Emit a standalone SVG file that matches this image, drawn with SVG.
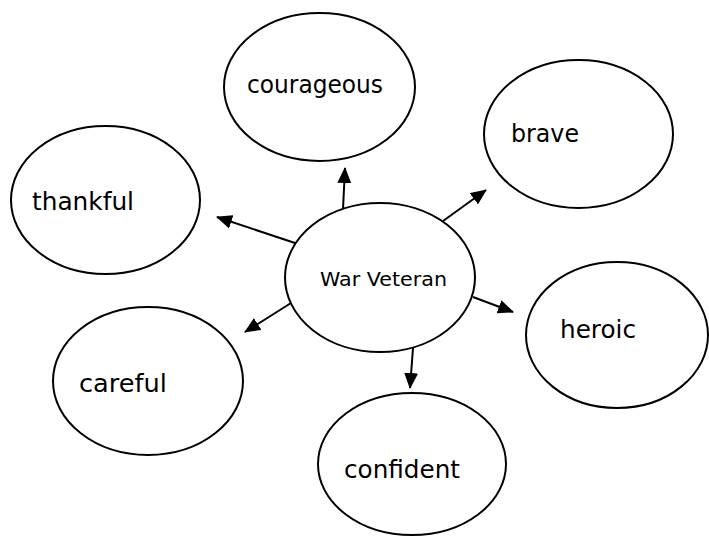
<svg xmlns="http://www.w3.org/2000/svg" width="709" height="537" viewBox="0 0 709 537">
<style>
.node ellipse{fill:#fff;stroke:#000;stroke-width:2}
.lbl{font-family:"DejaVu Sans","Noto Sans",sans-serif;font-size:24px;fill:#000}
.ctr{font-family:"DejaVu Sans","Noto Sans",sans-serif;font-size:19px;fill:#000}
.conn line{stroke:#000;stroke-width:2;marker-end:url(#ah)}
</style>
<defs>
<marker id="ah" markerUnits="userSpaceOnUse" markerWidth="16" markerHeight="14" refX="15" refY="7" orient="auto">
<path d="M0,0 L16,7 L0,14 Z" fill="#000"/>
</marker>
</defs>
<rect width="709" height="537" fill="#fff"/>
<g id="connectors" class="conn">
<line x1="343" y1="209" x2="345" y2="168"/>
<line x1="443" y1="221" x2="486" y2="190"/>
<line x1="295" y1="243" x2="217" y2="217"/>
<line x1="291" y1="303" x2="245" y2="332"/>
<line x1="473" y1="297" x2="513" y2="312"/>
<line x1="413" y1="348" x2="410" y2="388"/>
</g>
<g id="node-courageous" class="node">
<ellipse cx="319.5" cy="87" rx="95.5" ry="74"/>
<text class="lbl" x="247" y="93" textLength="136" lengthAdjust="spacingAndGlyphs">courageous</text>
</g>
<g id="node-brave" class="node">
<ellipse cx="578.5" cy="134" rx="94.5" ry="74"/>
<text class="lbl" x="511" y="142" textLength="68" lengthAdjust="spacingAndGlyphs">brave</text>
</g>
<g id="node-thankful" class="node">
<ellipse cx="105.5" cy="200" rx="94.5" ry="74"/>
<text class="lbl" x="32" y="210" textLength="102" lengthAdjust="spacingAndGlyphs">thankful</text>
</g>
<g id="node-war-veteran" class="node">
<ellipse cx="380" cy="277.5" rx="95" ry="74.5"/>
<text class="ctr" x="320" y="286" textLength="127" lengthAdjust="spacingAndGlyphs">War Veteran</text>
</g>
<g id="node-heroic" class="node">
<ellipse cx="617" cy="335" rx="91" ry="73"/>
<text class="lbl" x="560" y="338" textLength="76" lengthAdjust="spacingAndGlyphs">heroic</text>
</g>
<g id="node-careful" class="node">
<ellipse cx="148" cy="381" rx="95" ry="74"/>
<text class="lbl" x="79" y="392" textLength="88" lengthAdjust="spacingAndGlyphs">careful</text>
</g>
<g id="node-confident" class="node">
<ellipse cx="412" cy="464" rx="94" ry="71"/>
<text class="lbl" x="344" y="478" textLength="116" lengthAdjust="spacingAndGlyphs">confident</text>
</g>
</svg>
